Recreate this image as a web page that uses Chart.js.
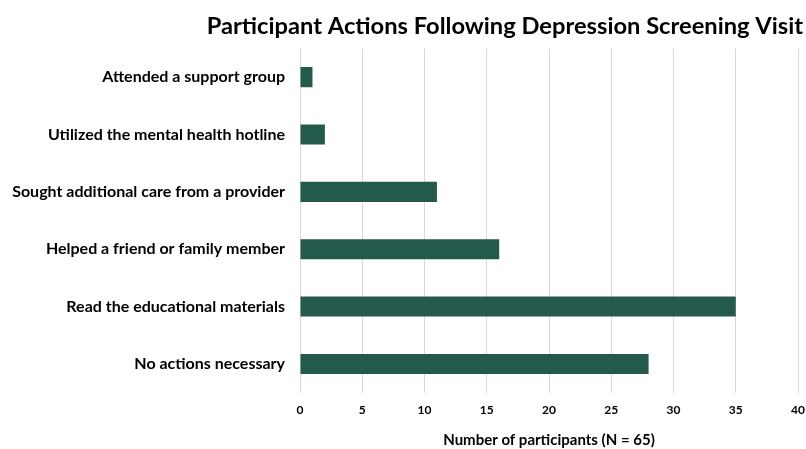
<!DOCTYPE html>
<html>
<head>
<meta charset="utf-8">
<script src="https://cdn.jsdelivr.net/npm/chart.js@4"></script>
<style>
  html, body { margin: 0; padding: 0; background: #fff; }
  #wrap { width: 806px; height: 449px; }
</style>
</head>
<body>
<div id="wrap"><canvas id="actionsChart" width="806" height="449"></canvas></div>
<script>
const categories = [
  "Attended a support group",
  "Utilized the mental health hotline",
  "Sought additional care from a provider",
  "Helped a friend or family member",
  "Read the educational materials",
  "No actions necessary"
];
const participants = [1, 2, 11, 16, 35, 28];
const xTicks = [0, 5, 10, 15, 20, 25, 30, 35, 40];

const fontFamily = "Lato, 'Open Sans', sans-serif";

new Chart(document.getElementById("actionsChart"), {
  type: "bar",
  data: {
    labels: categories,
    datasets: [{
      label: "Participants",
      data: participants,
      backgroundColor: "#245a4c",
      borderWidth: 0,
      barPercentage: 0.7,
      categoryPercentage: 0.5
    }]
  },
  options: {
    indexAxis: "y",
    responsive: false,
    animation: false,
    layout: { padding: { left: 0, right: 3, top: 0, bottom: 0 } },
    plugins: {
      legend: { display: false },
      tooltip: { enabled: false },
      title: {
        display: true,
        text: "Participant Actions Following Depression Screening Visit",
        align: "end",
        color: "#000",
        font: { family: fontFamily, size: 23.7, weight: "bold" },
        padding: { top: 12, bottom: 8 }
      }
    },
    scales: {
      x: {
        min: 0,
        max: 40,
        afterBuildTicks: axis => { axis.ticks = xTicks.map(v => ({ value: v })); },
        afterFit: axis => { axis.paddingRight = 8; },
        grid: { color: "#d9d9d9", lineWidth: 1, drawTicks: false },
        border: { display: false },
        ticks: {
          color: "#000",
          padding: 10,
          font: { family: fontFamily, size: 12, weight: "bold" }
        },
        title: {
          display: true,
          text: "Number of participants (N = 65)",
          color: "#000",
          font: { family: fontFamily, size: 15, weight: "bold" },
          padding: { top: 4, bottom: 0 }
        }
      },
      y: {
        afterFit: axis => { axis.width = 300; },
        grid: { display: false, drawTicks: false },
        border: { display: false },
        ticks: {
          color: "#000",
          padding: 15,
          font: { family: fontFamily, size: 16, weight: "bold" }
        }
      }
    }
  }
});
</script>
</body>
</html>
